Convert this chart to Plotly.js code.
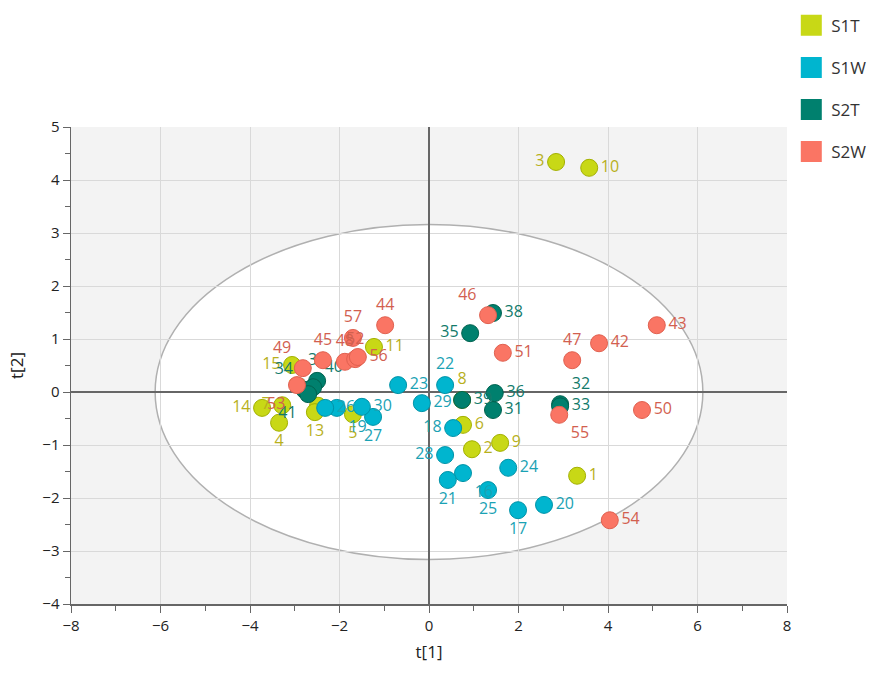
<!DOCTYPE html>
<html>
<head>
<meta charset="utf-8">
<script src="https://cdn.plot.ly/plotly-3.0.1.min.js"></script>
<style>
html,body{margin:0;padding:0;background:#fff;}
#chart{width:872px;height:691px;}
</style>
</head>
<body>
<div id="chart"></div>
<script>
// ---- data: t[1], t[2] scores per group ----
var groupNames = ["S1T", "S1W", "S2T", "S2W"];

var s1tLabels = ["1","2","3","4","5","6","7","8","9","10","11","12","13","14","15"];
var s1tX = [3.31, 0.96, 2.84, -3.35, -1.70, 0.76, -3.28, 0.74, 1.59, 3.58, -1.23, -2.48, -2.55, -3.73, -3.06];
var s1tY = [-1.58, -1.08, 4.34, -0.58, -0.42, -0.62, -0.25, -0.15, -0.96, 4.23, 0.85, -0.26, -0.38, -0.30, 0.51];

var s1wLabels = ["16","17","18","19","20","21","22","23","24","25","26","27","28","29","30"];
var s1wX = [0.76, 1.99, 0.54, -2.06, 2.57, 0.42, 0.36, -0.69, 1.77, 1.32, -2.32, -1.25, 0.36, -0.16, -1.50];
var s1wY = [-1.53, -2.23, -0.68, -0.30, -2.13, -1.66, 0.13, 0.13, -1.43, -1.85, -0.30, -0.47, -1.19, -0.21, -0.28];

var s2tLabels = ["31","32","33","34","35","36","37","38","39","40","41"];
var s2tX = [1.43, 2.93, 2.93, -2.78, 0.92, 1.47, -2.50, 1.43, 0.74, -2.59, -2.70];
var s2tY = [-0.34, -0.23, -0.27, 0.04, 1.11, -0.02, 0.21, 1.49, -0.15, 0.09, -0.04];

var s2wLabels = ["42","43","44","45","46","47","48","49","50","51","52","53","54","55","56","57"];
var s2wX = [3.80, 5.09, -0.98, -2.37, 1.32, 3.20, -1.88, -2.82, 4.76, 1.65, -1.65, -2.95, 4.04, 2.91, -1.59, -1.70];
var s2wY = [0.92, 1.26, 1.26, 0.60, 1.45, 0.60, 0.57, 0.45, -0.34, 0.74, 0.62, 0.13, -2.42, -0.43, 0.66, 1.02];

// Hotelling T2 ellipse semi-axes (t[1], t[2])
var ellipseA = 6.12;
var ellipseB = 3.16;

// ---- styles ----
var fills  = ["#c8d816", "#00b5cf", "#00806e", "#fa7564"];
var edges  = ["#a3b000", "#0093a8", "#00624f", "#e0604f"];
var txtCol = ["#b8b01c", "#1aa2b4", "#127a6a", "#d2604f"];

var s1tPos = ["middle right","middle right","middle left","bottom center","bottom center","middle right","middle left","top center","middle right","middle right","middle right","top left","bottom center","middle left","middle left"];
var s1wPos = ["bottom right","bottom center","middle left","bottom right","middle right","bottom center","top center","middle right","middle right","bottom center","middle right","bottom center","middle left","middle right","middle right"];
var s2tPos = ["middle right","top right","middle right","top left","middle left","middle right","top center","middle right","middle right","top right","bottom left"];
var s2wPos = ["middle right","middle right","top center","top center","top left","top center","top center","top left","middle right","middle right","top center","bottom left","middle right","bottom right","middle right","top center"];

var xs = [s1tX, s1wX, s2tX, s2wX];
var ys = [s1tY, s1wY, s2tY, s2wY];
var labs = [s1tLabels, s1wLabels, s2tLabels, s2wLabels];
var poss = [s1tPos, s1wPos, s2tPos, s2wPos];

var traces = [];
for (var i = 0; i < 4; i++) {
  traces.push({
    type: "scatter", mode: "markers+text",
    x: xs[i], y: ys[i], text: labs[i], textposition: poss[i],
    name: groupNames[i], showlegend: false, cliponaxis: false,
    marker: {size: 17, color: fills[i], line: {color: edges[i], width: 1}},
    textfont: {family: "Open Sans, sans-serif", size: 16, color: txtCol[i]},
    hoverinfo: "x+y+text"
  });
}
for (var j = 0; j < 4; j++) {
  traces.push({
    type: "scatter", mode: "markers", x: [null], y: [null],
    name: groupNames[j], legendgroup: groupNames[j], showlegend: true,
    marker: {symbol: "square", size: 16, color: fills[j], line: {color: fills[j], width: 5}}
  });
}

var layout = {
  width: 872, height: 691,
  margin: {l: 71, r: 85, t: 127, b: 87, autoexpand: false},
  paper_bgcolor: "#ffffff",
  plot_bgcolor: "#f3f3f3",
  font: {family: "Open Sans, sans-serif", color: "#333"},
  showlegend: true,
  legend: {
    x: 1.006, y: 1.25, xanchor: "left", yanchor: "top",
    bgcolor: "rgba(0,0,0,0)", font: {size: 17, color: "#333"},
    traceorder: "grouped", tracegroupgap: 17
  },
  xaxis: {
    range: [-8, 8], dtick: 2, tick0: 0,
    showgrid: true, gridcolor: "#d9d9d9", gridwidth: 1,
    zeroline: true, zerolinecolor: "#666", zerolinewidth: 1.5,
    showline: true, linecolor: "#666", linewidth: 1.5,
    ticks: "outside", ticklen: 7, tickcolor: "#666",
    minor: {dtick: 1, ticks: "outside", ticklen: 5, tickcolor: "#666", showgrid: false},
    tickfont: {size: 15, color: "#222"},
    title: {text: "t[1]", font: {size: 17, color: "#222"}, standoff: 12}
  },
  yaxis: {
    range: [-4, 5], dtick: 1, tick0: 0,
    showgrid: true, gridcolor: "#d9d9d9", gridwidth: 1,
    zeroline: true, zerolinecolor: "#666", zerolinewidth: 1.5,
    showline: true, linecolor: "#666", linewidth: 1.5,
    ticks: "outside", ticklen: 7, tickcolor: "#666",
    minor: {dtick: 0.5, ticks: "outside", ticklen: 5, tickcolor: "#666", showgrid: false},
    tickfont: {size: 15, color: "#222"},
    title: {text: "t[2]", font: {size: 17, color: "#222"}, standoff: 14}
  },
  shapes: [{
    type: "circle", xref: "x", yref: "y", layer: "below",
    x0: -ellipseA, x1: ellipseA, y0: -ellipseB, y1: ellipseB,
    fillcolor: "#ffffff", line: {color: "#b0b0b0", width: 1.5}
  }]
};

Plotly.newPlot("chart", traces, layout, {displayModeBar: false, staticPlot: true});
</script>
</body>
</html>
